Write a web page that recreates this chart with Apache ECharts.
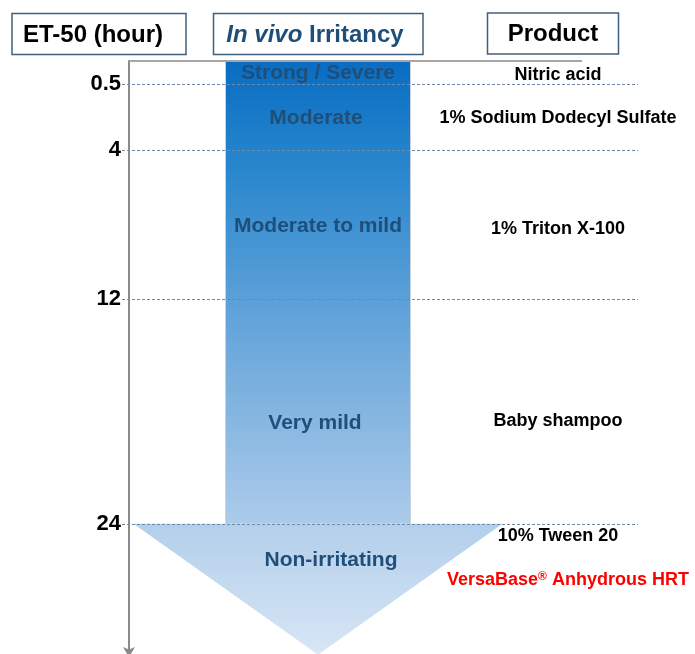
<!DOCTYPE html>
<html>
<head>
<meta charset="utf-8">
<script src="https://cdn.jsdelivr.net/npm/echarts@6/dist/echarts.min.js"></script>
<style>
  html, body { margin: 0; padding: 0; background: #fff; }
  #chart { width: 695px; height: 654px; }
</style>
</head>
<body>
<div id="chart"></div>
<script>
// ET-50 scale (hours)
const hourTicks = [0.5, 4, 12, 24];

// irritancy classes inside the arrow, and the hour each label sits at
const irritancyClasses = ['Strong / Severe', 'Moderate', 'Moderate to mild', 'Very mild', 'Non-irritating'];
const irritancyHours = [-0.1, 2.33, 8.06, 18.62, 25.96];

// products and their hour
const productNames = ['Nitric acid', '1% Sodium Dodecyl Sulfate', '1% Triton X-100', 'Baby shampoo', '10% Tween 20'];
const productHours = [0, 2.31, 8.22, 18.48, 24.68];
const highlightProduct = 'VersaBase';
const highlightHour = 26.99;

// arrow: top of shaft, shoulder, tip (hours)
const arrowHours = [-0.75, 24, 31.0];

// horizontal layout, px to the right of the time axis
const arrowCenterX = 189;
const shaftHalfWidth = 92.5;
const headHalfWidth = 184.5;
const irritancyDx = [0, -2, 0, -3, 13];
const productCenterX = 429;
const highlightCenterX = 439;

const FONT = '"Liberation Sans", Arial, sans-serif';
const chart = echarts.init(document.getElementById('chart'));

const shaftGradient = new echarts.graphic.LinearGradient(0, 0, 0, 1, [
  {offset: 0, color: '#096cc2'},
  {offset: 0.2, color: '#2383cc'},
  {offset: 0.52, color: '#5ca0d8'},
  {offset: 1, color: '#accbea'},
]);
const headGradient = new echarts.graphic.LinearGradient(0, 0, 0, 1, [
  {offset: 0, color: '#b3cfeb'},
  {offset: 1, color: '#d7e6f5'},
]);

function textItem(text, pos, size, color) {
  return {
    type: 'text',
    x: pos[0],
    y: pos[1],
    style: {
      text: text,
      fill: color,
      fontFamily: FONT,
      fontSize: size,
      fontWeight: 'bold',
      align: 'center',
      verticalAlign: 'middle',
    },
  };
}

chart.setOption({
  animation: false,
  grid: {left: 0, right: 0, top: 61, bottom: 4, outerBoundsMode: 'none', containLabel: false},
  xAxis: {
    type: 'value',
    min: -129,
    max: 566,
    show: false,
  },
  yAxis: {
    type: 'value',
    min: -0.75,
    max: 30.75,
    inverse: true,
    offset: -129,
    axisLine: {
      show: true,
      onZero: false,
      symbol: ['arrow', 'none'],
      symbolSize: [9, 10],
      symbolOffset: [-7, 0],
      lineStyle: {color: '#8a8a8a', width: 2},
    },
    axisTick: {show: false},
    splitLine: {show: false},
    axisLabel: {
      customValues: hourTicks,
      margin: 8,
      color: '#000',
      fontFamily: FONT,
      fontSize: 22,
      fontWeight: 'bold',
    },
  },
  graphic: [
    {type: 'rect', shape: {x: 12, y: 13.5, width: 174, height: 41}, style: {fill: '#fff', stroke: '#41607e', lineWidth: 1.5}},
    {type: 'text', x: 93, y: 35, style: {text: 'ET-50 (hour)', fill: '#000', fontFamily: FONT, fontSize: 24, fontWeight: 'bold', align: 'center', verticalAlign: 'middle'}},
    {type: 'rect', shape: {x: 213.5, y: 13.5, width: 209.5, height: 41}, style: {fill: '#fff', stroke: '#41607e', lineWidth: 1.5}},
    {
      type: 'text', x: 315, y: 35,
      style: {
        text: '{i|In vivo} Irritancy',
        fill: '#1f4e79', fontFamily: FONT, fontSize: 24, fontWeight: 'bold',
        align: 'center', verticalAlign: 'middle',
        rich: {i: {fill: '#1f4e79', fontFamily: FONT, fontSize: 24, fontWeight: 'bold', fontStyle: 'italic'}},
      },
    },
    {type: 'rect', shape: {x: 487.5, y: 13, width: 131, height: 41}, style: {fill: '#fff', stroke: '#41607e', lineWidth: 1.5}},
    {type: 'text', x: 553, y: 34, style: {text: 'Product', fill: '#000', fontFamily: FONT, fontSize: 24, fontWeight: 'bold', align: 'center', verticalAlign: 'middle'}},
  ],
  series: [
    {
      // arrow
      type: 'custom',
      z: 1,
      data: [[arrowCenterX].concat(arrowHours)],
      renderItem: function (params, api) {
        const cx = api.value(0);
        const tl = api.coord([cx - shaftHalfWidth, api.value(1)]);
        const br = api.coord([cx + shaftHalfWidth, api.value(2)]);
        const hl = api.coord([cx - headHalfWidth, api.value(2)]);
        const hr = api.coord([cx + headHalfWidth, api.value(2)]);
        const tip = api.coord([cx, api.value(3)]);
        return {
          type: 'group',
          children: [
            {
              type: 'rect',
              shape: {x: tl[0], y: tl[1], width: br[0] - tl[0], height: br[1] - tl[1]},
              style: {fill: shaftGradient, stroke: '#c9d3dd', lineWidth: 1},
            },
            {
              type: 'polygon',
              shape: {points: [hl, hr, tip]},
              style: {fill: headGradient},
            },
          ],
        };
      },
    },
    {
      // reference lines
      type: 'line',
      z: 3,
      data: [],
      markLine: {
        silent: true,
        symbol: ['none', 'none'],
        label: {show: false},
        lineStyle: {type: [3, 2], color: '#6f8aa6', width: 1},
        data: hourTicks.map(function (h) {
          return [{coord: [-7, h]}, {coord: [509, h]}];
        }).concat([[
          {coord: [0, -0.75], lineStyle: {type: 'solid', color: '#a6a6a6', width: 2}},
          {coord: [453, -0.75]},
        ]]),
      },
    },
    {
      // irritancy labels
      type: 'custom',
      z: 4,
      data: irritancyHours.map(function (h, i) { return [arrowCenterX + irritancyDx[i], h]; }),
      renderItem: function (params, api) {
        const p = api.coord([api.value(0), api.value(1)]);
        return textItem(irritancyClasses[params.dataIndex], p, 21, '#1f4e79');
      },
    },
    {
      // product labels
      type: 'custom',
      z: 4,
      data: productHours.map(function (h) { return [productCenterX, h]; }),
      renderItem: function (params, api) {
        const p = api.coord([api.value(0), api.value(1)]);
        return textItem(productNames[params.dataIndex], p, 18, '#000');
      },
    },
    {
      // highlighted product
      type: 'custom',
      z: 4,
      data: [[highlightCenterX, highlightHour]],
      renderItem: function (params, api) {
        const p = api.coord([api.value(0), api.value(1)]);
        return {
          type: 'text',
          x: p[0],
          y: p[1],
          style: {
            text: highlightProduct + '{sup|®} Anhydrous HRT',
            fill: '#ff0000',
            fontFamily: FONT,
            fontSize: 18,
            fontWeight: 'bold',
            align: 'center',
            verticalAlign: 'middle',
            rich: {
              sup: {fill: '#ff0000', fontFamily: FONT, fontSize: 12, fontWeight: 'bold', verticalAlign: 'top', padding: [0, 0, 6, 0]},
            },
          },
        };
      },
    },
  ],
});
</script>
</body>
</html>
